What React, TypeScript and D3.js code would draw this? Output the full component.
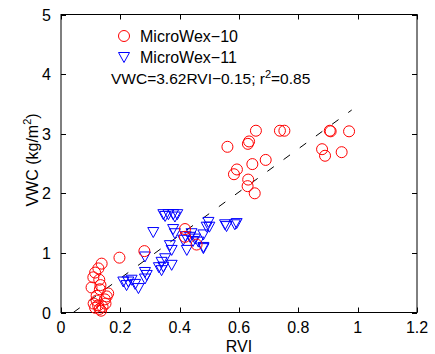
import React, { useEffect, useRef } from 'react';
import * as d3 from 'd3';

// RVI vs VWC, MicroWex-10 (circles)
const mw10Rvi = [0.561, 0.657, 0.738, 0.753, 0.634, 0.630, 0.690, 0.645, 0.593, 0.583, 0.631, 0.629, 0.653,
  0.906, 0.909, 0.971, 0.880, 0.890, 0.946,
  0.418, 0.418, 0.457, 0.281, 0.197,
  0.137, 0.126, 0.115, 0.109, 0.129, 0.133, 0.103, 0.131, 0.159, 0.154, 0.148, 0.120, 0.110, 0.125, 0.140, 0.130, 0.115, 0.150, 0.135, 0.120];
const mw10Vwc = [2.78, 3.05, 3.05, 3.05, 2.87, 2.83, 2.56, 2.49, 2.40, 2.32, 2.23, 2.12, 2.00,
  3.05, 3.04, 3.04, 2.74, 2.63, 2.69,
  1.40, 1.27, 1.14, 1.03, 0.92,
  0.82, 0.74, 0.67, 0.59, 0.55, 0.46, 0.42, 0.39, 0.32, 0.27, 0.22, 0.20, 0.15, 0.12, 0.10, 0.06, 0.08, 0.15, 0.03, 0.28];

// MicroWex-11 (down triangles)
const mw11Rvi = [0.345, 0.362, 0.378, 0.392, 0.351, 0.384, 0.311, 0.378, 0.384, 0.497, 0.491, 0.553, 0.586, 0.558,
  0.480, 0.440, 0.435, 0.452, 0.412, 0.463, 0.480, 0.424, 0.367, 0.373, 0.351, 0.339, 0.345, 0.373, 0.330, 0.339,
  0.283, 0.283, 0.289, 0.283, 0.210, 0.227, 0.238, 0.221, 0.261, 0.250, 0.420, 0.445, 0.500, 0.592, 0.480];
const mw11Vwc = [1.65, 1.65, 1.65, 1.65, 1.62, 1.61, 1.35, 1.40, 1.33, 1.52, 1.44, 1.48, 1.48, 1.45,
  1.31, 1.33, 1.27, 1.24, 1.22, 1.19, 1.10, 1.05, 1.13, 1.05, 0.91, 0.85, 0.77, 0.80, 0.76, 0.71,
  0.94, 0.68, 0.63, 0.57, 0.52, 0.52, 0.55, 0.46, 0.41, 0.48, 1.28, 1.20, 1.44, 1.50, 1.08];

const xTicks = [0, 0.2, 0.4, 0.6, 0.8, 1, 1.2];
const yTicks = [0, 1, 2, 3, 4, 5];
const fitSlope = 3.62;
const fitIntercept = -0.15;
const fitRange = [0.0414, 0.98];

const FONT = '"Liberation Sans", Arial, Helvetica, sans-serif';
const tri = 'M-5.5,-4.5L5.5,-4.5L0,5.5Z';

export default function App() {
  const svgRef = useRef<SVGSVGElement>(null);

  useEffect(() => {
    const svg = d3.select(svgRef.current);
    svg.selectAll('*').remove();

    const left = 61, right = 417, top = 14.5, bottom = 312.5;
    const x = d3.scaleLinear().domain([0, 1.2]).range([left, right]);
    const y = d3.scaleLinear().domain([0, 5]).range([bottom, top]);

    svg.style('font-family', FONT);

    // box
    svg.append('rect')
      .attr('x', left).attr('y', top)
      .attr('width', right - left).attr('height', bottom - top)
      .attr('fill', 'white').attr('stroke', 'black').attr('stroke-width', 1);

    // ticks (inward, mirrored)
    const tl = 5;
    xTicks.forEach(t => {
      const px = Math.round(x(t)) + 0.5;
      svg.append('line').attr('x1', px).attr('x2', px).attr('y1', bottom).attr('y2', bottom - tl).attr('stroke', 'black');
      svg.append('line').attr('x1', px).attr('x2', px).attr('y1', top).attr('y2', top + tl).attr('stroke', 'black');
      svg.append('text').attr('x', x(t)).attr('y', 333)
        .attr('text-anchor', 'middle').attr('font-size', 16).text(String(t));
    });
    yTicks.forEach(t => {
      const py = Math.round(y(t)) + 0.5;
      svg.append('line').attr('x1', left).attr('x2', left + tl).attr('y1', py).attr('y2', py).attr('stroke', 'black');
      svg.append('line').attr('x1', right).attr('x2', right - tl).attr('y1', py).attr('y2', py).attr('stroke', 'black');
      svg.append('text').attr('x', 51).attr('y', y(t) + 6)
        .attr('text-anchor', 'end').attr('font-size', 16).text(String(t));
    });

    // fit line
    svg.append('line')
      .attr('x1', x(fitRange[0])).attr('y1', y(fitSlope * fitRange[0] + fitIntercept))
      .attr('x2', x(fitRange[1])).attr('y2', y(fitSlope * fitRange[1] + fitIntercept))
      .attr('stroke', 'black').attr('stroke-dasharray', '8,12');

    // MicroWex-11
    svg.append('g').selectAll('path')
      .data(d3.range(mw11Rvi.length))
      .enter().append('path')
      .attr('d', tri)
      .attr('transform', i => `translate(${x(mw11Rvi[i])},${y(mw11Vwc[i])})`)
      .attr('fill', 'none').attr('stroke', '#0000ff').attr('stroke-width', 1);

    // MicroWex-10
    svg.append('g').selectAll('circle')
      .data(d3.range(mw10Rvi.length))
      .enter().append('circle')
      .attr('cx', i => x(mw10Rvi[i])).attr('cy', i => y(mw10Vwc[i]))
      .attr('r', 5.5)
      .attr('fill', 'none').attr('stroke', '#ff0000').attr('stroke-width', 1);

    // legend
    svg.append('circle').attr('cx', 124).attr('cy', 36).attr('r', 5.5)
      .attr('fill', 'none').attr('stroke', '#ff0000');
    svg.append('path').attr('d', tri).attr('transform', 'translate(124,57)')
      .attr('fill', 'none').attr('stroke', '#0000ff');
    svg.append('text').attr('x', 140).attr('y', 42).attr('font-size', 16).text('MicroWex\u221210');
    svg.append('text').attr('x', 140).attr('y', 63).attr('font-size', 16).text('MicroWex\u221211');
    const eq = svg.append('text').attr('x', 111).attr('y', 84).attr('font-size', 15.5);
    eq.append('tspan').text('VWC=3.62RVI\u22120.15; r');
    eq.append('tspan').attr('dy', -6).attr('font-size', 11).text('2');
    eq.append('tspan').attr('dy', 6).text('=0.85');

    // axis labels
    svg.append('text').attr('x', (left + right) / 2).attr('y', 352)
      .attr('text-anchor', 'middle').attr('font-size', 16).text('RVI');
    const yl = svg.append('text')
      .attr('transform', 'translate(38,160) rotate(-90)')
      .attr('text-anchor', 'middle').attr('font-size', 16);
    yl.append('tspan').text('VWC (kg/m');
    yl.append('tspan').attr('dy', -7).attr('font-size', 11).text('2');
    yl.append('tspan').attr('dy', 7).text(')');
  }, []);

  return (
    <svg ref={svgRef} width={435} height={354}
      style={{ position: 'absolute', left: 0, top: 0, background: 'white' }} />
  );
}
